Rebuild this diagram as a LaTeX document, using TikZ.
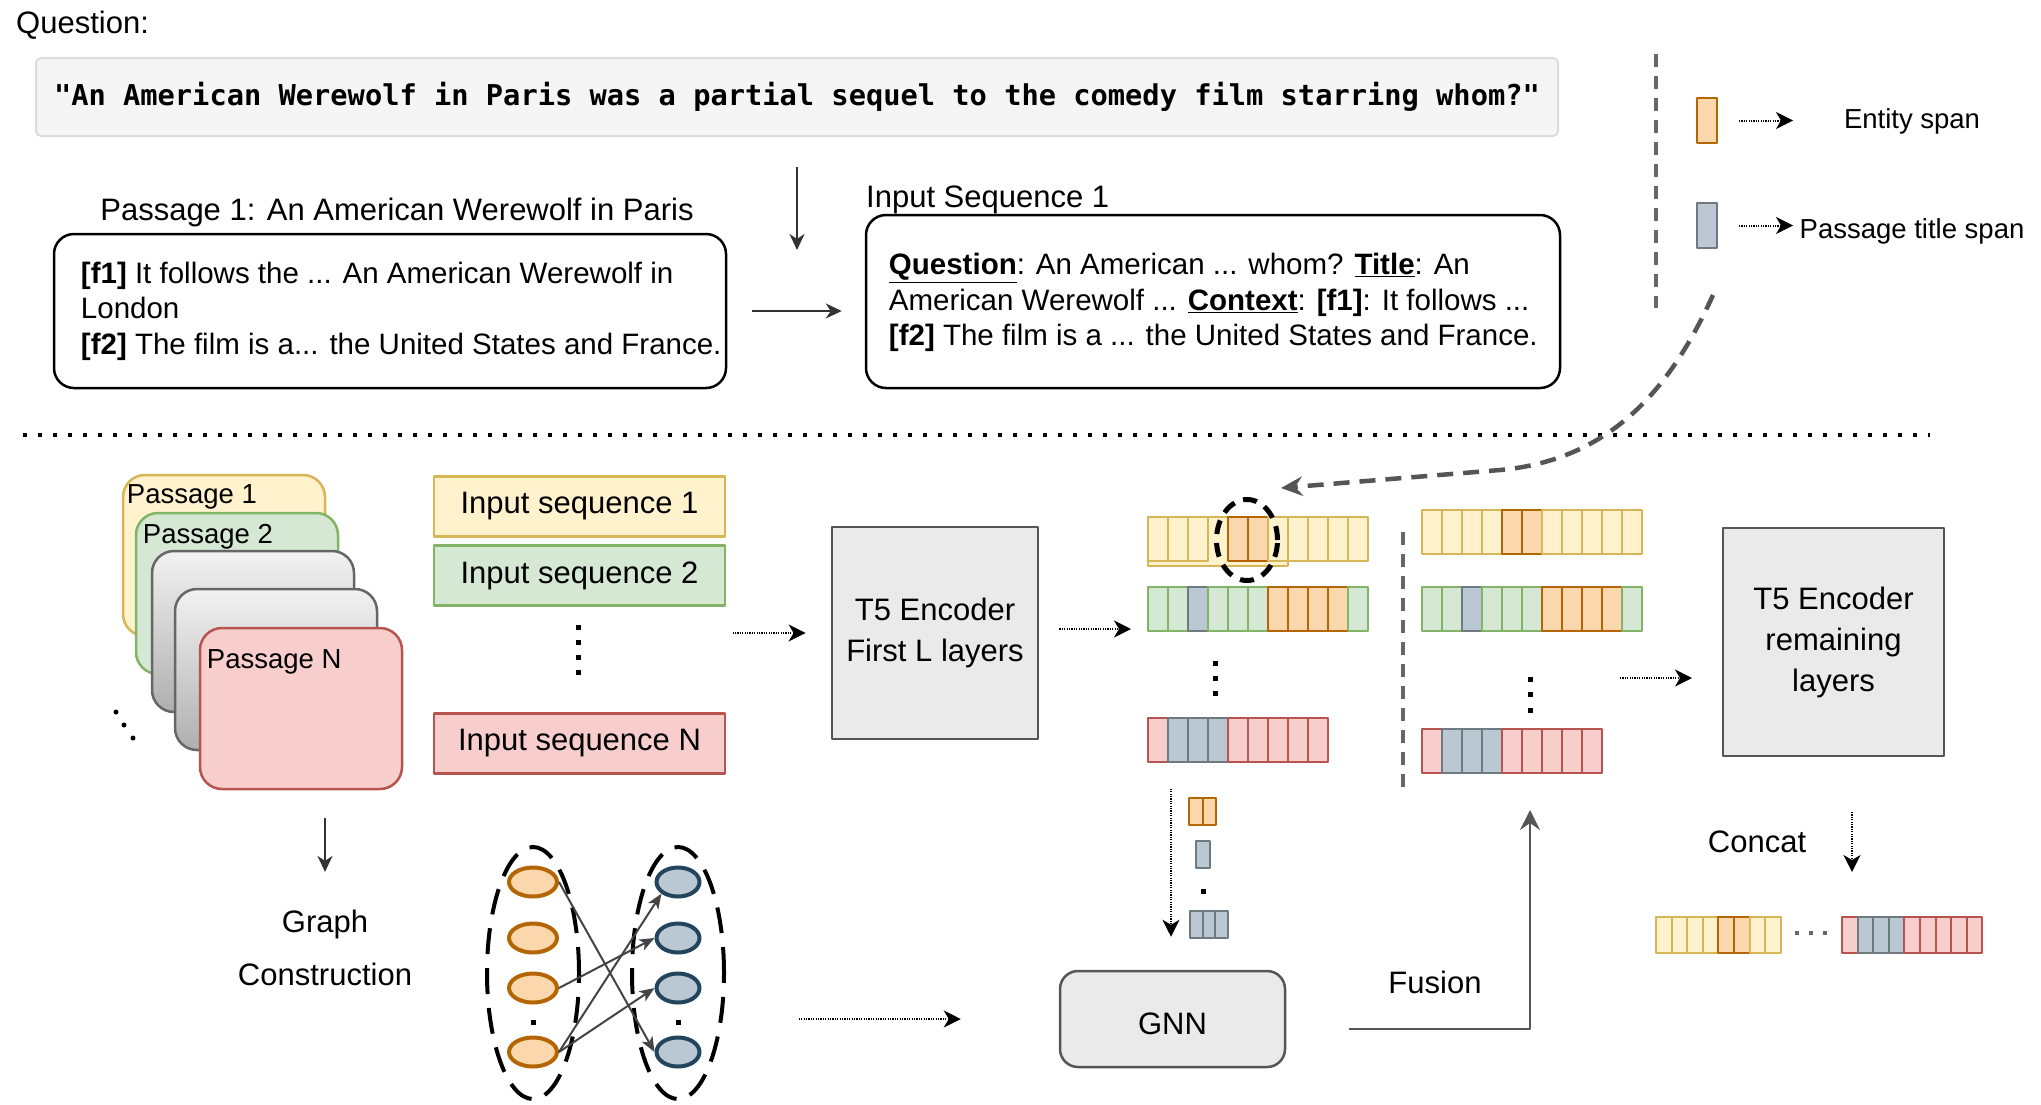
\documentclass[tikz,border=0pt]{standalone}
\usepackage{fontspec}
\setmainfont{Liberation Sans}
\newfontfamily\qmono{DejaVu Sans Mono}
\usetikzlibrary{arrows.meta,shapes.geometric,positioning}

\definecolor{yF}{HTML}{FFF2CC}\definecolor{yL}{HTML}{D6B656}
\definecolor{gF}{HTML}{D5E8D4}\definecolor{gL}{HTML}{82B366}
\definecolor{rF}{HTML}{F8CECC}\definecolor{rL}{HTML}{B85450}
\definecolor{oF}{HTML}{FAD7AC}\definecolor{oL}{HTML}{B46504}
\definecolor{bF}{HTML}{BAC8D3}\definecolor{bL}{HTML}{6F7A80}
\definecolor{ttlline}{HTML}{23445D}
\definecolor{qF}{HTML}{F5F5F5}\definecolor{qL}{HTML}{DCDCDC}
\definecolor{boxfill}{HTML}{EAEAEA}\definecolor{boxline}{HTML}{555555}
\definecolor{greyline}{HTML}{666666}\definecolor{darkline}{HTML}{333333}
\definecolor{edgegray}{HTML}{444444}
\definecolor{stacktop}{HTML}{F2F2F2}\definecolor{stackbot}{HTML}{AFAFAF}

\newcommand{\bodyfs}{\fontsize{31}{41}\selectfont}
\newcommand{\boxfs}{\fontsize{29.5}{35.5}\selectfont}
\newcommand{\keyfs}{\fontsize{27.5}{33}\selectfont}

% x, y, cell width, cell height, colour codes
\newcommand{\tokrow}[5]{%
  \foreach \cl [count=\i from 0] in {#5}
    {\draw[tok/.expanded=\cl] ({#1+\i*#3},#2) rectangle ++(#3,#4);}}
\newcommand{\sqdot}[3][black]{\fill[#1] ({#2-2.5},{#3-2.5}) rectangle ++(5,5);}

\begin{document}
\begin{tikzpicture}[x=1pt, y=-1pt, font=\bodyfs, line join=round, >=Stealth,
    every node/.style={inner sep=0pt},
    tok/.style={cell-#1},
    cell-y/.style={draw=yL, fill=yF, line width=2pt},
    cell-g/.style={draw=gL, fill=gF, line width=2pt},
    cell-r/.style={draw=rL, fill=rF, line width=2pt},
    cell-o/.style={draw=oL, fill=oF, line width=2pt},
    cell-b/.style={draw=bL, fill=bF, line width=2pt},
    cell-n/.style={draw=none},
    thinarrow/.style={draw=darkline, line width=1.8pt, -{Stealth[length=16pt, width=15pt, inset=5pt]}},
    dotarrow/.style={line width=2pt, dash pattern=on 1.2pt off 1.2pt, -{Stealth[length=17pt, width=17pt, inset=5pt]}},
    fusearrow/.style={draw=boxline, line width=2.5pt, -{Stealth[length=20pt, width=20pt, inset=7pt]}},
    edge/.style={draw=edgegray, line width=2pt, -{Stealth[length=15pt, width=12pt, inset=4pt]}},
    curvedash/.style={draw=boxline, line width=4.5pt, dash pattern=on 16pt off 10pt, -{Stealth[length=22pt, width=20pt, inset=8pt, line width=1pt]}},
    sepdots/.style={line width=4pt, dash pattern=on 4pt off 11pt},
    greydash/.style={draw=greyline, line width=4pt, dash pattern=on 13pt off 9pt},
    textbox/.style={draw=black, line width=2.5pt, rounded corners=20pt},
    qbox/.style={draw=qL, fill=qF, line width=2pt, rounded corners=5pt, minimum width=1522pt, minimum height=78pt},
    pstack/.style={line width=2.5pt, rounded corners=22pt, minimum width=202pt, minimum height=161pt},
    seqbox/.style={line width=2.5pt, minimum width=291pt, minimum height=60pt},
    encbox/.style={draw=boxline, fill=boxfill, line width=2.8pt, align=center},
    gnnbox/.style={draw=boxline, fill=boxfill, line width=2.5pt, rounded corners=18pt, minimum width=225pt, minimum height=96pt},
    ent/.style={ellipse, draw=oL, fill=oF, line width=4pt, minimum width=48pt, minimum height=29pt},
    ttl/.style={ellipse, draw=ttlline, fill=bF, line width=4pt, minimum width=43pt, minimum height=29pt},
    group/.style={ellipse, draw=black, line width=4pt, dash pattern=on 26pt off 14pt, minimum width=92pt, minimum height=252pt},
    focus/.style={ellipse, draw=black, line width=5pt, dash pattern=on 14pt off 9pt, minimum width=61pt, minimum height=81pt}]
\useasboundingbox (0,0) rectangle (2041,1104);

% question, passage and input sequence
\node[anchor=base west] (qlabel) at (16,33) {Question:};
\node[qbox] (qbox) at (797,97) {\qmono\bfseries\fontsize{28.7}{34}\selectfont "An American Werewolf in Paris was a partial sequel to the comedy film starring whom?"};
\node[anchor=base] (p1title) at (397,220) {Passage 1: An American Werewolf in Paris};
\node[textbox, minimum width=672pt, minimum height=154pt] (p1box) at (390,311) {};
\node[anchor=west, align=left, font=\boxfs] (p1text) at ([xshift=28pt]p1box.west) {\textbf{[f1]} It follows the ... An American Werewolf in\\London\\\textbf{[f2]} The film is a... the United States and France.};
\node[anchor=base west] (islabel) at (866,207) {Input Sequence 1};
\node[textbox, minimum width=694pt, minimum height=173pt] (isbox) at (1213,301.5) {};
\node[anchor=west, align=left, font=\boxfs] (istext) at ([xshift=24pt, yshift=-1pt]isbox.west) {\underline{\textbf{Question}}: An American ... whom? \underline{\textbf{Title}}: An\\American Werewolf ... \underline{\textbf{Context}}: \textbf{[f1]}: It follows ...\\\textbf{[f2]} The film is a ... the United States and France.};
\draw[thinarrow] ([yshift=-30pt]qbox.south) -- ([yshift=-113pt]qbox.south);
\draw[thinarrow, shorten <=25pt, shorten >=23pt] (p1box.east) -- (p1box.east -| isbox.west);

% legend
\draw[greydash] (1656,54) -- (1656,308);
\node[cell-o, minimum width=20pt, minimum height=45pt] (entkey) at (1707,120.5) {};
\node[cell-b, minimum width=20pt, minimum height=45pt] (ttlkey) at (1707,225.5) {};
\node[anchor=base, font=\keyfs] (entlabel) at (1912,128) {Entity span};
\node[anchor=base, font=\keyfs] (ttllabel) at (1912,238) {Passage title span};
\draw[dotarrow] ([xshift=21pt]entkey.east) -- ([xshift=75pt]entkey.east);
\draw[dotarrow] ([xshift=21pt]ttlkey.east) -- ([xshift=75pt]ttlkey.east);

\draw[sepdots] (23,435) -- (1930,435);

% passages
\node[pstack, draw=yL, fill=yF] (pass1) at (224,555.5) {};
\node[pstack, draw=gL, fill=gF] (pass2) at (237,593.5) {};
\node[pstack, draw=greyline, top color=stacktop, bottom color=stackbot] (passg1) at (253,631.5) {};
\node[pstack, draw=greyline, top color=stacktop, bottom color=stackbot] (passg2) at (276,669.5) {};
\node[pstack, draw=rL, fill=rF] (passN) at (301,708.5) {};
\node[anchor=base west, font=\keyfs] (pass1lbl) at ([xshift=5pt, yshift=-30pt]pass1.north west) {Passage 1};
\node[anchor=base west, font=\keyfs] (pass2lbl) at ([xshift=8pt, yshift=-32pt]pass2.north west) {Passage 2};
\node[anchor=base west, font=\keyfs] (passNlbl) at ([xshift=8pt, yshift=-42pt]passN.north west) {Passage N};
\fill (116,712) circle (2.5pt) (124,725) circle (2.5pt) (133,738) circle (2.5pt);

\node[seqbox, draw=yL, fill=yF] (seq1) at (579.5,506.5) {Input sequence 1};
\node[seqbox, draw=gL, fill=gF] (seq2) at (579.5,575.5) {Input sequence 2};
\node[seqbox, draw=rL, fill=rF] (seqN) at (579.5,743.5) {Input sequence N};
\foreach \y in {627,642,657,672} {\sqdot{578}{\y}}

\node[encbox, minimum width=206pt, minimum height=212pt] (t5a) at (935,633) {T5 Encoder\\First L layers};
\draw[dotarrow, shorten >=25pt] ([xshift=-98pt]t5a.west) -- (t5a.west);

% token rows
\coordinate (rowin) at (1131,629);
\draw[dotarrow, shorten <=20pt] (rowin -| t5a.east) -- (rowin);
\draw[cell-y] (1148,517) rectangle (1288,566);
\tokrow{1148}{517}{20}{44}{y,y,y,n,o,o,y,y,y,y,y}
\tokrow{1148}{587}{20}{44}{g,g,b,g,g,g,o,o,o,o,g}
\tokrow{1148}{718}{20}{44}{r,b,b,b,r,r,r,r,r}
\foreach \y in {663,678,693} {\sqdot{1215}{\y}}
\node[focus] (focus) at (1247,540) {};

\draw[greydash, line width=3.5pt] (1403,532) -- (1403,787);
\tokrow{1422}{510}{20}{44}{y,y,y,y,o,o,y,y,y,y,y}
\tokrow{1422}{587}{20}{44}{g,g,b,g,g,g,o,o,o,o,g}
\tokrow{1422}{729}{20}{44}{r,b,b,b,r,r,r,r,r}
\foreach \y in {679,694,710} {\sqdot{1530}{\y}}

\coordinate (ftip) at (1281,488);
\draw[curvedash] ([xshift=6pt, yshift=-46pt]ttlkey.south) .. controls (1670,390) and (1610,460) .. (1500,470) -- (ftip);

\node[encbox, minimum width=221pt, minimum height=228pt] (t5b) at (1833.5,642) {T5 Encoder\\remaining\\layers};
\coordinate (remin) at (1692,678);
\draw[dotarrow] ([xshift=-72pt]remin) -- (remin);

\node (concat) at (1757,842) {Concat};
\coordinate (catin) at (1852,872);
\draw[dotarrow] ([yshift=60pt]catin) -- (catin);
\tokrow{1656}{917}{15.6}{36}{y,y,y,y,o,o,y,y}
\foreach \x in {1797,1811,1825} {\fill[greyline] ({\x-2},931) rectangle ++(4,4);}
\tokrow{1842}{917}{15.6}{36}{r,b,b,b,r,r,r,r,r}

% graph
\node[align=center, font=\fontsize{31}{53}\selectfont] (gc) at (325,948) {Graph\\Construction};
\draw[thinarrow, shorten <=28pt] (passN.south -| gc.north) -- ([yshift=38pt]gc.north);
\node[group] (egrp) at (533,973) {};
\node[group] (tgrp) at (678,973) {};
\foreach \n/\y in {1/882,2/938,3/988,4/1052} {
  \node[ent] (e\n) at (533,\y) {};
  \node[ttl] (t\n) at (678,\y) {};
}
\sqdot{533}{1022} \sqdot{678}{1022}
\draw[edge] (e1.east) -- (t4.west);
\draw[edge] (e3.east) -- (t2.west);
\draw[edge] (e4.east) -- (t1.south west);
\draw[edge] (e4.east) -- (t3.west);

\node[gnnbox, text height=32pt] (gnn) at (1172.5,1019) {GNN};
\draw[dotarrow, shorten >=98pt] ([xshift=-260pt]gnn.west) -- (gnn.west);
\draw[dotarrow] ([xshift=-1.5pt, yshift=181pt]gnn.north) -- ([xshift=-1.5pt, yshift=33pt]gnn.north);
\tokrow{1189}{798}{13.5}{27}{o,o}
\tokrow{1196}{841}{14}{27}{b}
\sqdot{1203}{891}
\tokrow{1190}{911}{12.7}{27}{b,b,b}

\coordinate (fuse) at (1530,810);
\draw[fusearrow] ([xshift=63pt, yshift=-10pt]gnn.east) -| (fuse);
\node (fusion) at (1435,982) {Fusion};
\end{tikzpicture}
\end{document}
